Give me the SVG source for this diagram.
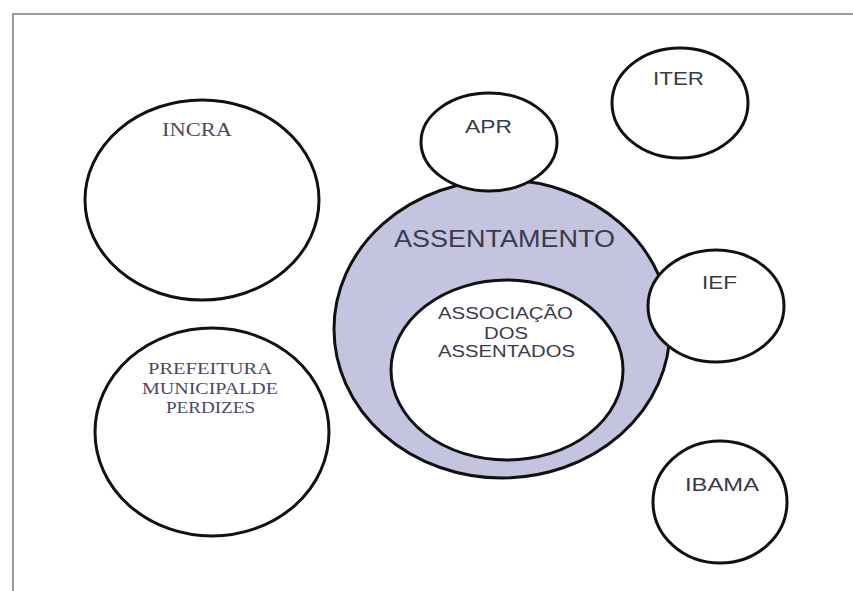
<svg xmlns="http://www.w3.org/2000/svg" width="853" height="591" viewBox="0 0 853 591">
<style>
.n{fill:#fff;stroke:#111;stroke-width:3}
.s{font-family:"Liberation Sans",Arial,sans-serif;fill:#3a3a4a}
.r{font-family:"Liberation Serif","Times New Roman",serif;fill:#4a4a66}
</style>
<rect width="853" height="591" fill="#fff"/>
<path d="M13 591 V14 H853" fill="none" stroke="#999" stroke-width="2"/>
<g id="connectors"/>
<g id="incra"><ellipse class="n" cx="202" cy="200" rx="117" ry="100"/><text class="r" x="162" y="136" font-size="18" textLength="70" lengthAdjust="spacingAndGlyphs">INCRA</text></g>
<g id="prefeitura"><ellipse class="n" cx="212" cy="432" rx="117" ry="104"/>
<text class="r" x="148" y="374" font-size="17" textLength="124" lengthAdjust="spacingAndGlyphs">PREFEITURA</text>
<text class="r" x="142" y="394" font-size="17" textLength="136" lengthAdjust="spacingAndGlyphs">MUNICIPALDE</text>
<text class="r" x="166" y="413" font-size="17" textLength="89" lengthAdjust="spacingAndGlyphs">PERDIZES</text></g>
<g id="iter"><ellipse class="n" cx="680" cy="103" rx="68" ry="55"/><text class="s" x="653" y="85" font-size="18" textLength="51" lengthAdjust="spacingAndGlyphs">ITER</text></g>
<g id="assentamento"><ellipse cx="502" cy="329" rx="168" ry="149" fill="#c4c3e0" stroke="#111" stroke-width="3"/>
<text class="s" x="394" y="247" font-size="23" textLength="221" lengthAdjust="spacingAndGlyphs">ASSENTAMENTO</text></g>
<g id="associacao"><ellipse class="n" cx="507" cy="370" rx="116" ry="90"/>
<text class="s" x="438" y="319" font-size="16" textLength="135" lengthAdjust="spacingAndGlyphs">ASSOCIAÇÃO</text>
<text class="s" x="484" y="339" font-size="16" textLength="44" lengthAdjust="spacingAndGlyphs">DOS</text>
<text class="s" x="438" y="357" font-size="16" textLength="137" lengthAdjust="spacingAndGlyphs">ASSENTADOS</text></g>
<g id="apr"><ellipse class="n" cx="489" cy="142" rx="68" ry="49"/><text class="s" x="465" y="133" font-size="19" textLength="47" lengthAdjust="spacingAndGlyphs">APR</text></g>
<g id="ief"><ellipse class="n" cx="716" cy="306" rx="68" ry="56"/><text class="s" x="702" y="289" font-size="19" textLength="35" lengthAdjust="spacingAndGlyphs">IEF</text></g>
<g id="ibama"><ellipse class="n" cx="720" cy="502" rx="67" ry="61"/><text class="s" x="685" y="491" font-size="19" textLength="74" lengthAdjust="spacingAndGlyphs">IBAMA</text></g>
</svg>
